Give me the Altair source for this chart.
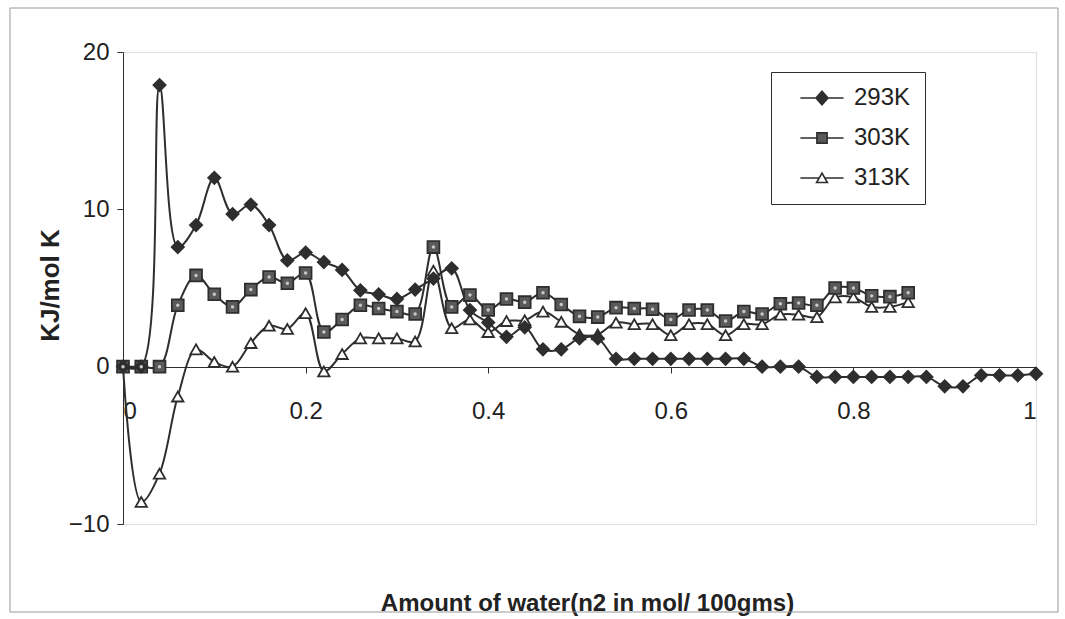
import altair as alt
import pandas as pd

# ---- data ----
x_vals = [0.00, 0.02, 0.04, 0.06, 0.08, 0.10, 0.12, 0.14, 0.16, 0.18,
          0.20, 0.22, 0.24, 0.26, 0.28, 0.30, 0.32, 0.34, 0.36, 0.38,
          0.40, 0.42, 0.44, 0.46, 0.48, 0.50, 0.52, 0.54, 0.56, 0.58,
          0.60, 0.62, 0.64, 0.66, 0.68, 0.70, 0.72, 0.74, 0.76, 0.78,
          0.80, 0.82, 0.84, 0.86, 0.88, 0.90, 0.92, 0.94, 0.96, 0.98, 1.00]

k293 = [0, 0, 17.9, 7.6, 9.0, 12.0, 9.7, 10.3, 9.0, 6.75,
        7.25, 6.65, 6.15, 4.85, 4.6, 4.3, 4.9, 5.6, 6.25, 3.6,
        2.8, 1.9, 2.5, 1.1, 1.1, 1.8, 1.8, 0.5, 0.5, 0.5,
        0.5, 0.5, 0.5, 0.5, 0.5, 0.0, 0.0, 0.0, -0.65, -0.65,
        -0.65, -0.65, -0.65, -0.65, -0.65, -1.25, -1.25, -0.55, -0.55, -0.55, -0.45]

k303 = [0, 0, 0, 3.9, 5.8, 4.6, 3.8, 4.9, 5.7, 5.3,
        5.95, 2.2, 3.0, 3.9, 3.7, 3.5, 3.35, 7.6, 3.8, 4.55,
        3.6, 4.3, 4.1, 4.7, 3.95, 3.2, 3.15, 3.75, 3.7, 3.65,
        3.0, 3.6, 3.6, 2.9, 3.5, 3.35, 4.0, 4.05, 3.9, 5.0,
        5.0, 4.5, 4.45, 4.7]

k313 = [0, -8.6, -6.8, -1.9, 1.1, 0.3, 0.0, 1.5, 2.6, 2.4,
        3.4, -0.3, 0.8, 1.8, 1.8, 1.8, 1.6, 6.1, 2.45, 3.0,
        2.2, 2.9, 2.95, 3.5, 2.85, 2.05, 2.05, 2.8, 2.7, 2.7,
        2.0, 2.7, 2.7, 2.0, 2.7, 2.7, 3.3, 3.3, 3.15, 4.4,
        4.4, 3.8, 3.8, 4.1]

series = ["293K", "303K", "313K"]
x_ticks = [0, 0.2, 0.4, 0.6, 0.8, 1]
y_ticks = [-10, 0, 10, 20]

# ---- table (313K drawn first, 293K on top) ----
rows = []
for name, vals in [("313K", k313), ("303K", k303), ("293K", k293)]:
    for xv, yv in zip(x_vals, vals):
        rows.append({"x": xv, "y": yv, "series": name})
df = pd.DataFrame(rows)

FONT = "Liberation Sans"
INK = "#2e2e2e"

x_enc = alt.X(
    "x:Q",
    scale=alt.Scale(domain=[0, 1], nice=False, zero=False),
    axis=alt.Axis(
        values=x_ticks, format="~g", offset=-157, tickSize=6, labelPadding=26,
        grid=False, domainColor=INK, tickColor=INK, labelColor="#222",
        labelFontSize=24, labelFont=FONT,
        title="Amount of water(n2 in mol/ 100gms)", titleFont=FONT,
        titleFontSize=24, titleFontWeight="bold", titleColor="#222",
        titleX=464, titleY=243, titleAlign="center", titleBaseline="alphabetic",
        titleAnchor="middle",
    ),
)
y_enc = alt.Y(
    "y:Q",
    scale=alt.Scale(domain=[-10, 20], nice=False, zero=False),
    axis=alt.Axis(
        values=y_ticks, tickSize=6, labelPadding=8, grid=False,
        domainColor=INK, tickColor=INK, labelColor="#222",
        labelFontSize=24, labelFont=FONT,
        title="KJ/mol K", titleFont=FONT, titleFontSize=26,
        titleFontWeight="bold", titleColor="#222", titleAngle=270,
        titleX=-73, titleY=233, titleAlign="center", titleBaseline="middle",
    ),
)

base = alt.Chart(df)

lines = base.mark_line(interpolate="catmull-rom", color=INK, strokeWidth=2).encode(
    x=x_enc, y=y_enc, detail="series:N"
)

marker_shapes = ["diamond", "square", "triangle-up"]
marker_fills = ["#2e2e2e", "#5a5a5a", "#ffffff"]
marker_sizes = [150, 130, 115]

points = base.mark_point(filled=True, stroke=INK, strokeWidth=1.8, opacity=1).encode(
    x="x:Q",
    y="y:Q",
    shape=alt.Shape("series:N", scale=alt.Scale(domain=series, range=marker_shapes), legend=None),
    fill=alt.Fill("series:N", scale=alt.Scale(domain=series, range=marker_fills), legend=None),
    size=alt.Size("series:N", scale=alt.Scale(domain=series, range=marker_sizes), legend=None),
)

# speckled centre of the square markers
speckle = base.transform_filter("datum.series == '303K'").mark_point(
    shape="circle", filled=True, color="#c8c8c8", size=12, opacity=1
).encode(x="x:Q", y="y:Q")

# legend: symbols with a line through the marker
legend_paths = [
    "M-3.6,0H-1M1,0H3.6M-1,0L0,-1.15L1,0L0,1.15Z",
    "M-3.6,0H-0.85M0.85,0H3.6M-0.85,-0.85H0.85V0.85H-0.85Z",
    "M-3.6,0H-0.55M0.55,0H3.6M0,-0.8L-0.9,0.75H0.9Z",
]
leg = alt.Legend(
    title=None, orient="none", legendX=648, legendY=20,
    strokeColor=INK, fillColor="white", padding=14,
    symbolOffset=25, labelOffset=20, rowPadding=16,
    labelFont=FONT, labelFontSize=24, labelColor="#222",
    symbolStrokeWidth=1.6, symbolSize=144,
)
legend_layer = base.transform_filter("false").mark_point(
    filled=True, stroke=INK, strokeWidth=1.6, size=144, opacity=1
).encode(
    x="x:Q",
    y="y:Q",
    shape=alt.Shape("series:N", scale=alt.Scale(domain=series, range=legend_paths), legend=leg),
    fill=alt.Fill("series:N", scale=alt.Scale(domain=series, range=marker_fills), legend=leg),
)

frame = alt.Chart(pd.DataFrame({"a": [0]})).mark_rect(
    fillOpacity=0, stroke="#999999", strokeWidth=1
).encode(
    x=alt.value(-113), x2=alt.value(935), y=alt.value(-44), y2=alt.value(560)
)

chart = (
    alt.layer(frame, lines, points, speckle, legend_layer)
    .resolve_scale(shape="independent", fill="independent")
    .properties(
        width=913, height=472,
        autosize=alt.AutoSizeParams(type="none"),
        padding={"left": 123, "top": 52, "right": 29, "bottom": 95},
    )
    .configure_view(stroke="#888888", strokeWidth=1)
    .configure(background="white")
)

chart.save("out.html", embed_options={"renderer": "svg", "actions": False})
